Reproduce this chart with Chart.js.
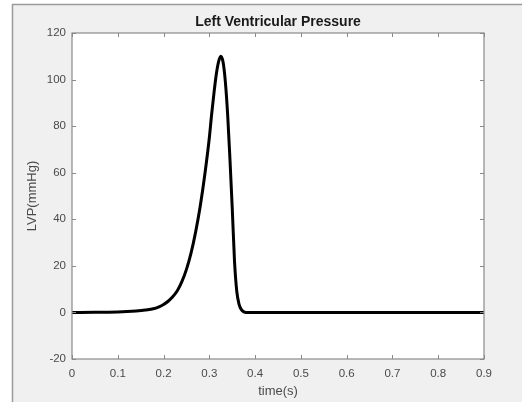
<!DOCTYPE html>
<html>
<head>
<meta charset="utf-8">
<script src="https://cdn.jsdelivr.net/npm/chart.js@4.4.1/dist/chart.umd.min.js"></script>
<style>
  html, body { margin: 0; padding: 0; background: #ffffff; }
  #wrap { width: 522px; height: 402px; position: relative; }
</style>
</head>
<body>
<div id="wrap"><canvas id="myChart" width="522" height="402"></canvas></div>
<script>
// time (s) and left ventricular pressure (mmHg)
const timeValues = [0, 0.05, 0.1, 0.12, 0.14, 0.16, 0.18, 0.19, 0.2, 0.21, 0.22, 0.23, 0.24, 0.25,
  0.26, 0.27, 0.28, 0.29, 0.3, 0.305, 0.31, 0.315, 0.32, 0.325, 0.33, 0.335, 0.34, 0.345,
  0.35, 0.355, 0.36, 0.365, 0.37, 0.375, 0.38, 0.39, 0.5, 0.7, 0.9];
const lvpValues = [0, 0.05, 0.2, 0.35, 0.6, 1.0, 1.7, 2.4, 3.4, 4.8, 6.7, 9.3, 13.2, 18.5,
  25.5, 34.5, 45.5, 59, 75, 85, 94, 102, 107.5, 110, 107.5, 99, 85, 66,
  45, 22, 9, 3.5, 1.2, 0.3, 0, 0, 0, 0, 0];

const xTicks = [0, 0.1, 0.2, 0.3, 0.4, 0.5, 0.6, 0.7, 0.8, 0.9];
const yTicks = [-20, 0, 20, 40, 60, 80, 100, 120];
const chartTitle = "Left Ventricular Pressure";

const axisColor = "#8a8a8a";
const labelColor = "#4a4a4a";
const fontFamily = "'Liberation Sans', Arial, sans-serif";

const points = timeValues.map((t, i) => ({ x: t, y: lvpValues[i] }));

// gray figure background + matlab style box with inward ticks, title centred over the axes
const matlabFrame = {
  id: "matlabFrame",
  beforeDraw(chart) {
    const c = chart.ctx;
    const a = chart.chartArea;
    c.save();
    c.fillStyle = "#f0f0f0";
    c.fillRect(12, 4, chart.width - 12, chart.height - 4);
    c.strokeStyle = "#9a9a9a";
    c.lineWidth = 1.5;
    c.beginPath();
    c.moveTo(12.5, chart.height);
    c.lineTo(12.5, 4.5);
    c.lineTo(chart.width, 4.5);
    c.stroke();
    c.fillStyle = "#ffffff";
    c.fillRect(a.left, a.top, a.right - a.left, a.bottom - a.top);
    c.restore();
  },
  afterDatasetsDraw(chart) {
    const c = chart.ctx;
    const a = chart.chartArea;
    const xs = chart.scales.x;
    const ys = chart.scales.y;
    const len = 4;
    c.save();
    c.strokeStyle = axisColor;
    c.lineWidth = 1;
    c.beginPath();
    xTicks.forEach((v) => {
      const px = Math.round(xs.getPixelForValue(v)) + 0.5;
      c.moveTo(px, a.bottom); c.lineTo(px, a.bottom - len);
      c.moveTo(px, a.top); c.lineTo(px, a.top + len);
    });
    yTicks.forEach((v) => {
      const py = Math.round(ys.getPixelForValue(v)) + 0.5;
      c.moveTo(a.left, py); c.lineTo(a.left + len, py);
      c.moveTo(a.right, py); c.lineTo(a.right - len, py);
    });
    c.stroke();
    c.lineWidth = 1.2;
    c.strokeRect(a.left, a.top, a.right - a.left, a.bottom - a.top);

    c.fillStyle = "#1a1a1a";
    c.font = "bold 14px " + fontFamily;
    c.textAlign = "center";
    c.textBaseline = "middle";
    c.fillText(chartTitle, (a.left + a.right) / 2, a.top - 11);
    c.restore();
  },
};

const ctx = document.getElementById("myChart").getContext("2d");

const myChart = new Chart(ctx, {
  type: "line",
  data: {
    datasets: [
      {
        label: "LVP",
        data: points,
        borderColor: "#000000",
        borderWidth: 3,
        pointRadius: 0,
        fill: false,
        cubicInterpolationMode: "monotone",
      },
    ],
  },
  options: {
    responsive: false,
    animation: false,
    layout: { padding: { left: 0, right: 38, top: 33, bottom: 0 } },
    plugins: {
      legend: { display: false },
      tooltip: { enabled: false },
      title: { display: false },
    },
    scales: {
      x: {
        type: "linear",
        min: 0,
        max: 0.9,
        afterBuildTicks: (scale) => { scale.ticks = xTicks.map((v) => ({ value: v })); },
        afterFit: (scale) => { scale.height = 43; },
        grid: { display: false, drawTicks: false },
        border: { display: false },
        ticks: {
          color: labelColor,
          padding: 8,
          font: { family: fontFamily, size: 11.5 },
          callback: (v) => String(Math.round(v * 10) / 10),
        },
        title: {
          display: true,
          text: "time(s)",
          color: labelColor,
          font: { family: fontFamily, size: 13 },
          padding: { top: 0, bottom: 3 },
        },
      },
      y: {
        min: -20,
        max: 120,
        afterBuildTicks: (scale) => { scale.ticks = yTicks.map((v) => ({ value: v })); },
        afterFit: (scale) => { scale.width = 72; },
        grid: { display: false, drawTicks: false },
        border: { display: false },
        ticks: {
          color: labelColor,
          padding: 6,
          font: { family: fontFamily, size: 11.5 },
        },
        title: {
          display: true,
          text: "LVP(mmHg)",
          color: labelColor,
          font: { family: fontFamily, size: 13 },
          padding: { top: 25, bottom: 0 },
        },
      },
    },
  },
  plugins: [matlabFrame],
});
</script>
</body>
</html>
